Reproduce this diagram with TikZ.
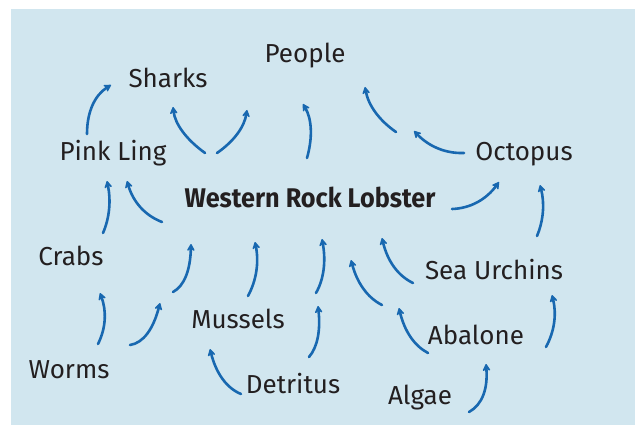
\documentclass[tikz,border=0pt]{standalone}
\usepackage{fontspec}
\setmainfont{Fira Sans}
\usetikzlibrary{arrows.meta,calc}
\definecolor{bgblue}{RGB}{209,230,239}
\definecolor{arrblue}{RGB}{24,104,176}
\definecolor{txt}{RGB}{35,31,32}
\tikzset{
  lbl/.style={text=txt,font=\fontsize{26}{30}\selectfont,inner sep=0pt,anchor=base},
  mainlbl/.style={text=txt,font=\fontsize{27}{30}\selectfont\bfseries,inner sep=0pt,anchor=base},
  feed/.style={draw=arrblue,line width=2.6pt,line cap=round,
    -{Stealth[length=9pt,width=10pt,inset=3.5pt,round]}}
}
% quadratic curve from #1 via control #2 to #3
\newcommand{\quadarrow}[3]{%
  \draw[feed] (#1) .. controls ($(#1)!0.6667!(#2)$) and ($(#3)!0.6667!(#2)$) .. (#3);}
\begin{document}
\begin{tikzpicture}[x=1pt,y=-1pt]
\useasboundingbox (0,0) rectangle (639,425);
\fill[bgblue] (11,9) rectangle (635,425);
% labels (positions are baselines)
\node[lbl] (people) at (305,63) {People};
\node[lbl] (sharks) at (168,88) {Sharks};
\node[lbl] (pink) at (113,160) {Pink Ling};
\node[lbl] (octopus) at (524,160) {Octopus};
\node[mainlbl] (lobster) at (310,207) {\scalebox{0.935}[1]{Western Rock Lobster}};
\node[lbl] (crabs) at (71,265) {Crabs};
\node[lbl] (urchins) at (494,279) {Sea Urchins};
\node[lbl] (mussels) at (238,328) {Mussels};
\node[lbl] (abalone) at (476,344) {Abalone};
\node[lbl] (worms) at (69,378) {Worms};
\node[lbl] (detritus) at (293,393) {Detritus};
\node[lbl] (algae) at (420,404) {Algae};
% arrow end points and bend points
\coordinate (t1) at (87,134);  \coordinate (c1) at (87,100);  \coordinate (h1) at (111,85);
\coordinate (t2) at (205,153); \coordinate (c2) at (176,132); \coordinate (h2) at (173,107);
\coordinate (t3) at (217,153); \coordinate (c3) at (243,135); \coordinate (h3) at (247,110);
\coordinate (t4) at (307,158); \coordinate (c4) at (316,126); \coordinate (h4) at (303,104);
\coordinate (t5) at (396,132); \coordinate (c5) at (370,114); \coordinate (h5) at (365,87);
\coordinate (t6) at (464,153); \coordinate (c6) at (436,154); \coordinate (h6) at (414,131);
\coordinate (t7) at (452,209); \coordinate (c7) at (480,208); \coordinate (h7) at (499,182);
\coordinate (t8) at (537,236); \coordinate (c8) at (547,212); \coordinate (h8) at (540,185);
\coordinate (t9) at (103,233); \coordinate (c9) at (113,210); \coordinate (h9) at (107,181);
\coordinate (t10) at (162,222); \coordinate (c10) at (136,212); \coordinate (h10) at (127,181);
\coordinate (t11) at (98,344);  \coordinate (c11) at (110,320); \coordinate (h11) at (100,293);
\coordinate (t12) at (130,345); \coordinate (c12) at (150,342); \coordinate (h12) at (160,303);
\coordinate (t13) at (173,292); \coordinate (c13) at (190,283); \coordinate (h13) at (191,244);
\coordinate (t14) at (248,296); \coordinate (c14) at (261,272); \coordinate (h14) at (255,242);
\coordinate (t15) at (241,394); \coordinate (c15) at (219,385); \coordinate (h15) at (210,349);
\coordinate (t16) at (309,357); \coordinate (c16) at (322,342); \coordinate (h16) at (318,306);
\coordinate (t17) at (316,293); \coordinate (c17) at (328,272); \coordinate (h17) at (322,239);
\coordinate (t18) at (413,283); \coordinate (c18) at (390,272); \coordinate (h18) at (382,238);
\coordinate (t19) at (382,305); \coordinate (c19) at (360,294); \coordinate (h19) at (351,260);
\coordinate (t20) at (428,353); \coordinate (c20) at (407,342); \coordinate (h20) at (399,308);
\coordinate (t21) at (546,347); \coordinate (c21) at (559,323); \coordinate (h21) at (552,295);
\coordinate (t22) at (469,412); \coordinate (c22) at (489,401); \coordinate (h22) at (486,364);
% arrows
\quadarrow{t1}{c1}{h1}
\quadarrow{t2}{c2}{h2}
\quadarrow{t3}{c3}{h3}
\quadarrow{t4}{c4}{h4}
\quadarrow{t5}{c5}{h5}
\quadarrow{t6}{c6}{h6}
\quadarrow{t7}{c7}{h7}
\quadarrow{t8}{c8}{h8}
\quadarrow{t9}{c9}{h9}
\quadarrow{t10}{c10}{h10}
\quadarrow{t11}{c11}{h11}
\quadarrow{t12}{c12}{h12}
\quadarrow{t13}{c13}{h13}
\quadarrow{t14}{c14}{h14}
\quadarrow{t15}{c15}{h15}
\quadarrow{t16}{c16}{h16}
\quadarrow{t17}{c17}{h17}
\quadarrow{t18}{c18}{h18}
\quadarrow{t19}{c19}{h19}
\quadarrow{t20}{c20}{h20}
\quadarrow{t21}{c21}{h21}
\quadarrow{t22}{c22}{h22}
\end{tikzpicture}
\end{document}
